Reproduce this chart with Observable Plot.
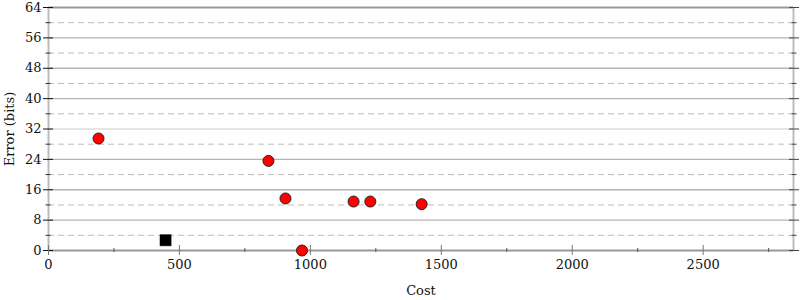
<!DOCTYPE html>
<html><head><meta charset="utf-8">
<script src="https://cdn.jsdelivr.net/npm/d3@7"></script>
<script src="https://cdn.jsdelivr.net/npm/@observablehq/plot@0.6"></script>
<style>body{margin:0;background:#fff}</style>
</head><body><div id="chart"></div>
<script>
const costs = [191, 840, 905, 968, 1165, 1229, 1425];
const errors = [29.5, 23.6, 13.7, 0, 12.9, 12.9, 12.2];
const bestCost = [447];
const bestError = [2.7];
const yMajor = [0, 8, 16, 24, 32, 40, 48, 56, 64];
const yMinor = [4, 12, 20, 28, 36, 44, 52, 60];
const xMajor = [0, 500, 1000, 1500, 2000, 2500];
const xMinor = [250, 750, 1250, 1750, 2250, 2750];
const xMax = 2845;

const points = costs.map((c, i) => ({cost: c, error: errors[i]}));
const best = bestCost.map((c, i) => ({cost: c, error: bestError[i]}));
const font = "DejaVu Serif";

const chart = Plot.plot({
  width: 800,
  height: 300,
  marginLeft: 48,
  marginRight: 7,
  marginTop: 7,
  marginBottom: 50,
  style: {fontFamily: font, fontSize: "13px", background: "#fff", color: "#111"},
  x: {domain: [0, xMax]},
  y: {domain: [0, 64]},
  marks: [
    Plot.ruleY(yMinor, {stroke: "#bdbdbd", strokeWidth: 1, strokeDasharray: "6,4"}),
    Plot.ruleY(yMajor.filter(d => d > 0 && d < 64), {stroke: d => d === 32 ? "#dcdcdc" : "#b4b4b4", strokeWidth: 1.3}),
    Plot.ruleY([64], {stroke: "#999", strokeWidth: 2}),
    Plot.ruleX([0], {stroke: "#bcbcbc", strokeWidth: 2}),
    Plot.ruleX([xMax], {stroke: "#bcbcbc", strokeWidth: 2}),
    Plot.ruleY([0], {stroke: "#999", strokeWidth: 2}),
    // left axis
    Plot.axisY({ticks: yMajor, tickSize: 10, dx: 5, tickPadding: 2, stroke: "#111", label: "Error (bits)", labelAnchor: "center", labelArrow: "none", labelOffset: 44, fontSize: 13}),
    Plot.axisY({ticks: yMinor, tickSize: 5, dx: 2.5, text: null, stroke: "#333", label: null}),
    // right axis
    Plot.axisY({anchor: "right", ticks: yMajor, tickSize: 10, dx: -5, text: null, stroke: "#444", label: null}),
    Plot.axisY({anchor: "right", ticks: yMinor, tickSize: 5, dx: -2.5, text: null, stroke: "#444", label: null}),
    // bottom axis
    Plot.axisX({ticks: xMajor, tickSize: 10, dy: -5, tickPadding: 4, stroke: "#777", label: "Cost", labelAnchor: "center", labelArrow: "none", labelOffset: 44, fontSize: 13, tickFormat: d => String(d)}),
    Plot.axisX({ticks: xMinor, tickSize: 4, dy: -2, text: null, stroke: "#555", label: null}),
    // data
    Plot.dot(points, {x: "cost", y: "error", r: 5.5, fill: "#ff0000", stroke: "#222", strokeWidth: 1}),
    Plot.dot(best, {x: "cost", y: "error", symbol: "square", r: 6.3, fill: "#000", stroke: "#000", strokeWidth: 0.5})
  ]
});
document.getElementById("chart").appendChild(chart);
</script>
</body></html>
